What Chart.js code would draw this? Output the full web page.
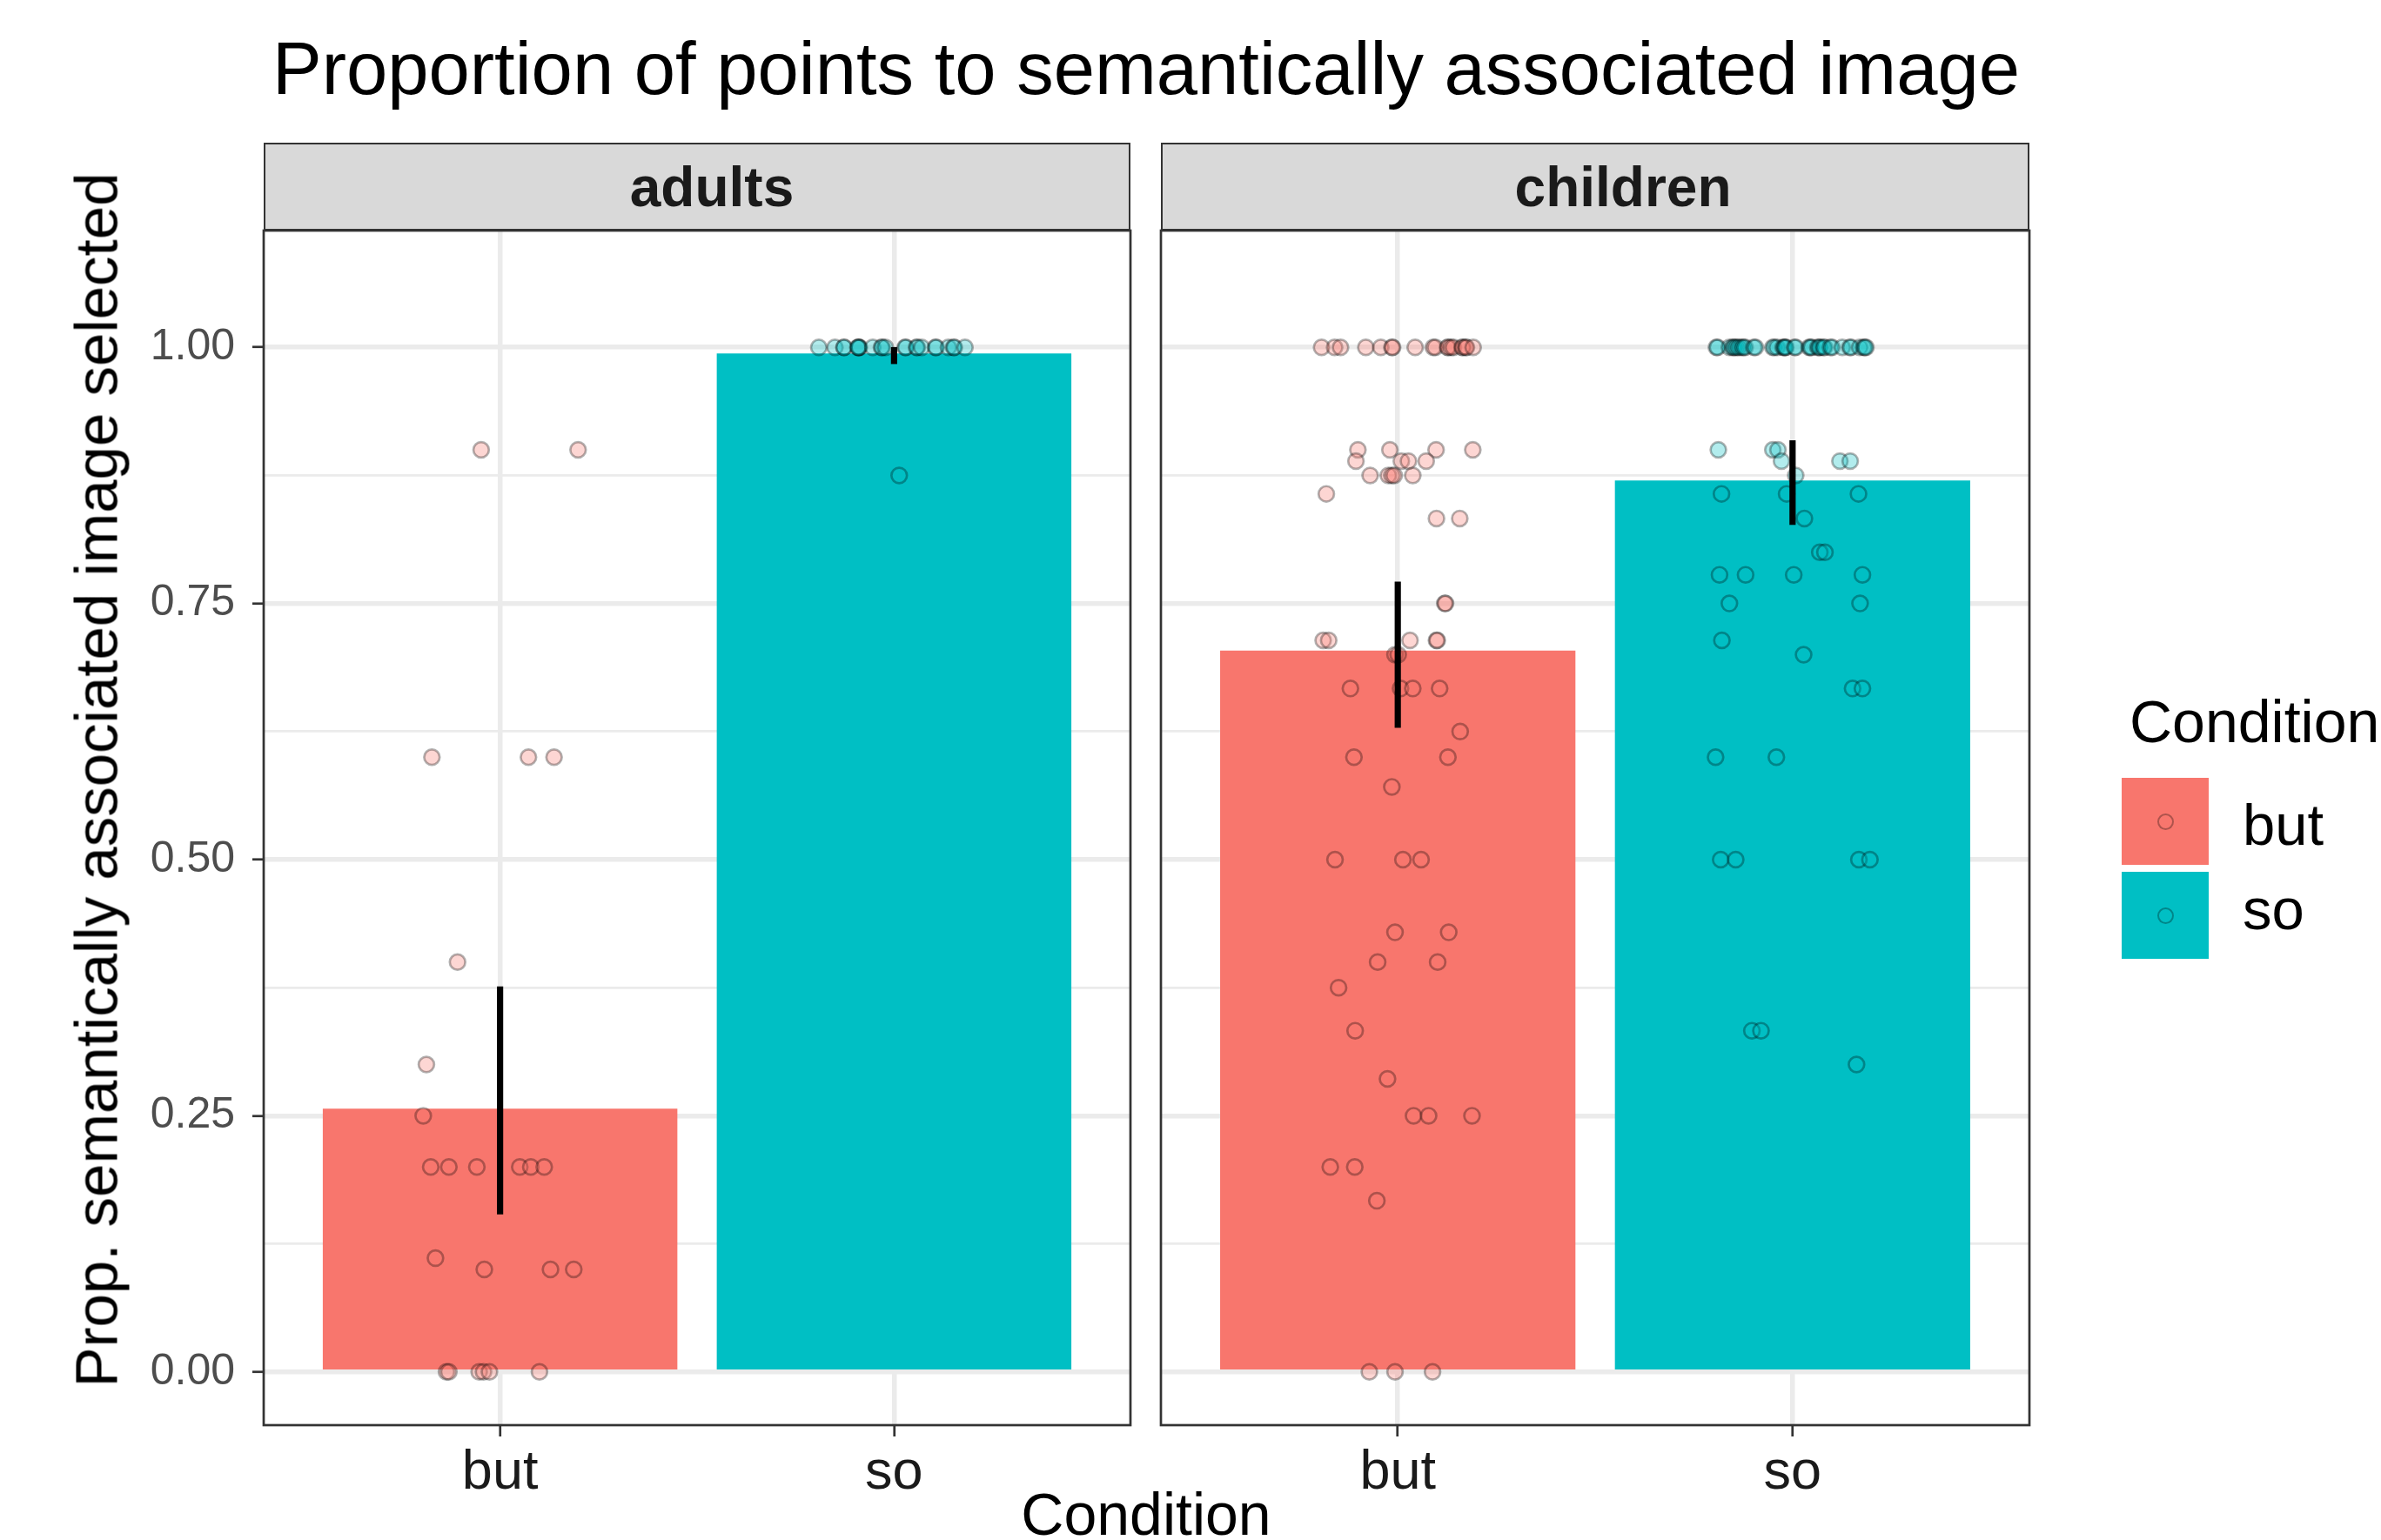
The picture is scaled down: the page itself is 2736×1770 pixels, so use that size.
<!DOCTYPE html>
<html>
<head>
<meta charset="utf-8">
<script src="https://cdn.jsdelivr.net/npm/chart.js@4/dist/chart.umd.min.js"></script>
<style>
  body { margin: 0; background: #fff; }
  #wrap { position: relative; width: 2736px; height: 1770px; overflow: hidden; background: #fff;
          font-family: 'Liberation Sans', Arial, sans-serif; }
  canvas { position: absolute; top: 0; }
  .txt { position: absolute; white-space: nowrap; color: #000; }
  .strip { position: absolute; box-sizing: border-box; top: 164px; height: 101px; background: #D9D9D9;
           border: 2.7px solid #333; display: flex; align-items: center; justify-content: center;
           font-weight: bold; font-size: 64px; color: #1A1A1A; }
  .key { position: absolute; width: 100px; height: 100px; display: flex; align-items: center; justify-content: center; }
  .dot { width: 15px; height: 15px; border-radius: 50%; border: 2.7px solid rgba(0,0,0,0.3); }
  .klab { position: absolute; font-size: 67px; line-height: 67px; }
</style>
</head>
<body>
<div id="wrap">
  <div class="txt" style="left:0; width:2634px; text-align:center; top:36px; font-size:85px; line-height:85px;">Proportion of points to semantically associated image</div>
  <div class="strip" style="left:303px; width:996px; padding-left:34px;">adults</div>
  <div class="strip" style="left:1334px; width:998px; padding-left:64px;">children</div>
  <canvas id="adults" width="1340" height="1770" style="left:0"></canvas>
  <canvas id="children" width="1100" height="1770" style="left:1300px"></canvas>
  <div class="txt" style="left:-689px; width:1600px; text-align:center; top:862px; font-size:69px; line-height:69px; transform:rotate(-90deg);">Prop. semantically associated image selected</div>
  <div class="txt" style="left:0; width:2634px; text-align:center; top:1706px; font-size:68px; line-height:68px;">Condition</div>
  <div id="legend">
    <div class="txt" style="left:2447px; top:795px; font-size:68px; line-height:68px;">Condition</div>
  </div>
</div>
<script>
// x categories and facet groups
const conditions = ['but', 'so'];
const colors = ['#F8766D', '#00BFC4'];
const pointFills = ['rgba(248,118,109,0.3)', 'rgba(0,191,196,0.3)'];

// y axis ticks
const yTicks = [0, 0.25, 0.5, 0.75, 1];
const yMinor = [0.125, 0.375, 0.625, 0.875];

// bar heights (mean) and error bar ends, per group, order: but, so
const adultsMean = [0.257, 0.994];
const adultsLow = [0.154, 0.984];
const adultsHigh = [0.376, 1.0];
const childrenMean = [0.704, 0.870];
const childrenLow = [0.629, 0.827];
const childrenHigh = [0.771, 0.909];

// participant points: [horizontal jitter, proportion]
const adultsBut = [
  [-0.048, 0.9], [0.198, 0.9],
  [-0.173, 0.6], [0.072, 0.6], [0.137, 0.6],
  [-0.108, 0.4], [-0.187, 0.3], [-0.195, 0.25],
  [-0.176, 0.2], [-0.130, 0.2], [-0.059, 0.2], [0.050, 0.2], [0.078, 0.2], [0.112, 0.2],
  [-0.164, 0.111],
  [-0.040, 0.1], [0.128, 0.1], [0.187, 0.1],
  [-0.136, 0], [-0.130, 0], [-0.053, 0], [-0.042, 0], [-0.027, 0], [0.100, 0]
];
const adultsSo = [
  [-0.191, 1], [-0.150, 1], [-0.127, 1], [-0.127, 1], [-0.090, 1], [-0.090, 1], [-0.088, 1], [-0.092, 1],
  [-0.054, 1], [-0.032, 1], [-0.030, 1], [-0.022, 1], [0.028, 1], [0.030, 1], [0.057, 1], [0.059, 1],
  [0.070, 1], [0.105, 1], [0.107, 1], [0.138, 1], [0.151, 1], [0.153, 1], [0.180, 1],
  [0.013, 0.875]
];
const childrenBut = [
  [-0.193, 1], [-0.160, 1], [-0.145, 1], [-0.081, 1], [-0.043, 1], [-0.015, 1], [-0.013, 1],
  [0.044, 1], [0.090, 1], [0.095, 1], [0.126, 1], [0.128, 1], [0.135, 1], [0.141, 1],
  [0.163, 1], [0.165, 1], [0.172, 1], [0.174, 1], [0.191, 1],
  [-0.101, 0.9], [-0.020, 0.9], [0.097, 0.9], [0.190, 0.9],
  [-0.106, 0.889], [0.009, 0.889], [0.027, 0.889], [0.072, 0.889],
  [-0.070, 0.875], [-0.024, 0.875], [-0.015, 0.875], [-0.009, 0.875], [0.038, 0.875],
  [-0.181, 0.857], [0.098, 0.833], [0.157, 0.833],
  [0.119, 0.75], [0.121, 0.75],
  [-0.189, 0.714], [-0.175, 0.714], [0.031, 0.714], [0.098, 0.714], [0.100, 0.714],
  [-0.007, 0.7], [0.001, 0.7],
  [-0.120, 0.667], [0.007, 0.667], [0.038, 0.667], [0.106, 0.667],
  [0.158, 0.625], [-0.111, 0.6], [0.127, 0.6], [-0.015, 0.571],
  [-0.159, 0.5], [0.013, 0.5], [0.059, 0.5],
  [-0.007, 0.429], [0.129, 0.429], [-0.051, 0.4], [0.101, 0.4],
  [-0.150, 0.375], [-0.108, 0.333], [-0.026, 0.286],
  [0.040, 0.25], [0.078, 0.25], [0.188, 0.25],
  [-0.171, 0.2], [-0.109, 0.2], [-0.053, 0.167],
  [-0.072, 0], [-0.007, 0], [0.088, 0]
];
const childrenSo = [
  [-0.193, 1], [-0.190, 1], [-0.160, 1], [-0.152, 1], [-0.149, 1], [-0.145, 1], [-0.140, 1], [-0.135, 1],
  [-0.128, 1], [-0.124, 1], [-0.120, 1], [-0.098, 1], [-0.094, 1], [-0.050, 1], [-0.046, 1], [-0.039, 1],
  [-0.024, 1], [-0.021, 1], [-0.019, 1], [-0.017, 1], [0.005, 1], [0.008, 1], [0.042, 1], [0.045, 1],
  [0.048, 1], [0.064, 1], [0.067, 1], [0.070, 1], [0.078, 1], [0.081, 1], [0.096, 1], [0.100, 1],
  [0.126, 1], [0.145, 1], [0.148, 1], [0.170, 1], [0.180, 1], [0.183, 1], [0.186, 1],
  [-0.188, 0.9], [-0.050, 0.9], [-0.037, 0.9],
  [-0.028, 0.889], [0.120, 0.889], [0.146, 0.889], [0.008, 0.875],
  [-0.180, 0.857], [-0.015, 0.857], [0.167, 0.857], [0.030, 0.833],
  [0.069, 0.8], [0.082, 0.8],
  [-0.185, 0.778], [-0.119, 0.778], [0.003, 0.778], [0.177, 0.778],
  [-0.160, 0.75], [0.171, 0.75], [-0.179, 0.714], [0.028, 0.7],
  [0.152, 0.667], [0.177, 0.667], [-0.195, 0.6], [-0.041, 0.6],
  [-0.182, 0.5], [-0.144, 0.5], [0.168, 0.5], [0.196, 0.5],
  [-0.103, 0.333], [-0.080, 0.333], [0.162, 0.3]
];

Chart.defaults.font.family = "'Liberation Sans', Arial, sans-serif";

const panelBorder = {
  id: 'panelBorder',
  afterDraw(chart) {
    const { ctx, chartArea: a } = chart;
    ctx.save();
    ctx.strokeStyle = '#333333';
    ctx.lineWidth = 2.7;
    ctx.strokeRect(a.left, a.top, a.right - a.left, a.bottom - a.top);
    ctx.restore();
  }
};

function makePanel(id, means, lows, highs, points, yWidth, padRight, showY) {
  const datasets = [];
  conditions.forEach((c, i) => {
    datasets.push({
      type: 'bar', label: c + ' se', data: [{ x: i, y: [lows[i], highs[i]] }],
      backgroundColor: '#000000', barThickness: 6.5, grouped: false, order: 0
    });
    datasets.push({
      type: 'scatter', label: c + ' points', data: points[i].map(p => ({ x: i + p[0], y: p[1] })),
      backgroundColor: pointFills[i], borderColor: 'rgba(0,0,0,0.3)', borderWidth: 2.7,
      pointRadius: 8.9, order: 1
    });
    datasets.push({
      type: 'bar', label: c, data: [{ x: i, y: means[i] }],
      backgroundColor: colors[i], barPercentage: 0.9, categoryPercentage: 1, grouped: false, order: 2
    });
  });

  return new Chart(document.getElementById(id), {
    type: 'bar',
    data: { datasets: datasets },
    plugins: [panelBorder],
    options: {
      responsive: false,
      animation: false,
      events: [],
      layout: { padding: { left: 0, top: 265, right: padRight, bottom: 0 } },
      plugins: { legend: { display: false }, tooltip: { enabled: false } },
      scales: {
        x: {
          type: 'linear', min: -0.6, max: 1.6, offset: false,
          afterBuildTicks: s => { s.ticks = conditions.map((c, i) => ({ value: i })); },
          afterFit: s => { s.height = 132; },
          border: { display: false },
          grid: { offset: false, color: '#EBEBEB', lineWidth: 5.5, tickLength: 13, tickColor: '#333333', tickWidth: 2.7 },
          ticks: { autoSkip: false, maxRotation: 0, padding: 5, color: '#1A1A1A', font: { size: 63 },
                   callback: v => conditions[v] }
        },
        y: {
          type: 'linear', min: -0.052, max: 1.114,
          afterBuildTicks: s => { s.ticks = yTicks.concat(yMinor).sort((a, b) => a - b).map(v => ({ value: v })); },
          afterFit: s => { s.width = yWidth; },
          border: { display: false },
          grid: {
            color: '#EBEBEB',
            lineWidth: ctx => yTicks.includes(ctx.tick.value) ? 5.5 : 2.8,
            drawTicks: showY, tickLength: 13, tickWidth: 2.7,
            tickColor: ctx => yTicks.includes(ctx.tick.value) ? '#333333' : 'rgba(0,0,0,0)'
          },
          ticks: { display: showY, autoSkip: false, padding: 20, color: '#4D4D4D', font: { size: 50 },
                   callback: v => yTicks.includes(v) ? v.toFixed(2) : '' }
        }
      }
    }
  });
}

makePanel('adults', adultsMean, adultsLow, adultsHigh, [adultsBut, adultsSo], 303, 41, true);
makePanel('children', childrenMean, childrenLow, childrenHigh, [childrenBut, childrenSo], 34, 68, false);

// legend
const legend = document.getElementById('legend');
const labelTops = [914, 1011];
conditions.forEach((c, i) => {
  const key = document.createElement('div');
  key.className = 'key';
  key.style.left = '2438px';
  key.style.top = (894 + i * 108) + 'px';
  key.style.background = colors[i];
  const dot = document.createElement('div');
  dot.className = 'dot';
  dot.style.background = pointFills[i];
  key.appendChild(dot);
  legend.appendChild(key);
  const lab = document.createElement('div');
  lab.className = 'klab';
  lab.style.left = '2577px';
  lab.style.top = labelTops[i] + 'px';
  lab.textContent = c;
  legend.appendChild(lab);
});
</script>
</body>
</html>
